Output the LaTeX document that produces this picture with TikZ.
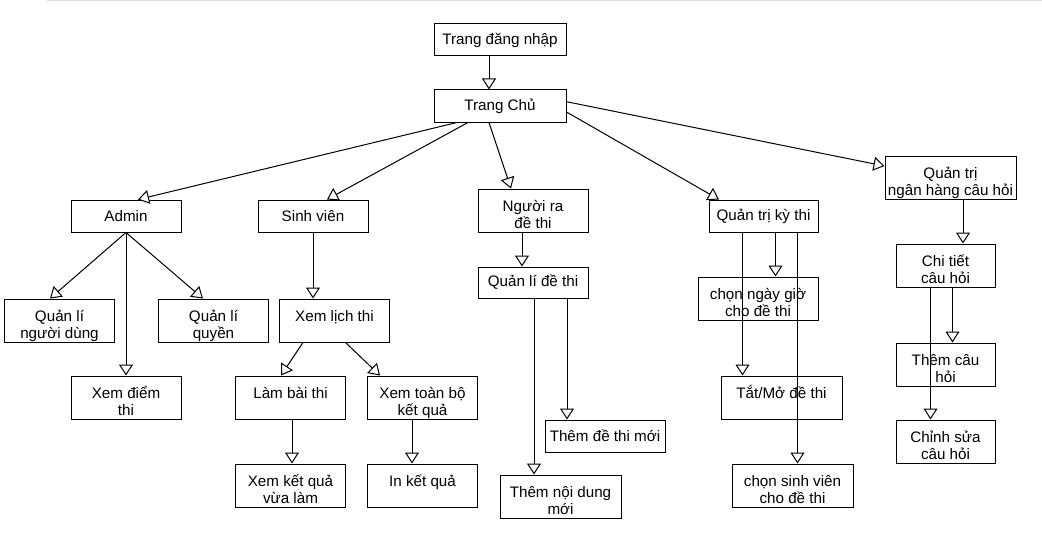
\documentclass[tikz,border=0pt]{standalone}
\usepackage{fontspec}
\setmainfont{Liberation Sans}
\usetikzlibrary{arrows.meta}
% two text lines, placed the same way in every tall box
\newcommand{\two}[2]{\rule{0pt}{22.5pt}#1\\#2\rule[-3.5pt]{0pt}{3.5pt}}

\begin{document}
\begin{tikzpicture}[x=1pt, y=-1pt,
    box/.style={draw, line width=1pt, align=center, inner sep=0pt, font=\fontsize{15.2}{17}\selectfont},
    lo/.style={minimum width=110pt, minimum height=32pt},
    hi/.style={minimum width=110pt, minimum height=43pt},
    arr/.style={draw, line width=1pt, -{Triangle[length=11pt, width=14pt, fill=white]}}]
            \useasboundingbox (0,0) rectangle (1042,551);
            \draw[gray!30, line width=1pt] (47,0.5) -- (1042,0.5);
            % top
            \node[box, lo, minimum width=132pt] (login) at (500,40) {Trang đăng nhập};
            \node[box, lo, minimum width=132pt] (home) at (500,106) {Trang Chủ};
            % second row
            \node[box, lo] (admin) at (126,216) {Admin};
            \node[box, lo] (sv) at (313,216) {Sinh viên};
            \node[box, hi] (nrdt) at (533,210.5) {\two{Người ra}{đề thi}};
            \node[box, lo, minimum width=109pt] (qtkt) at (763.5,216) {Quản trị kỳ thi};
            \node[box, hi, minimum width=131pt] (qtnh) at (950.5,177.5) {\two{Quản trị}{ngân hàng câu hỏi}};
            % admin
            \node[box, hi] (qlnd) at (59.5,320.5) {\two{Quản lí}{người dùng}};
            \node[box, hi] (qlq) at (213.5,320.5) {\two{Quản lí}{quyền}};
            \node[box, hi] (xdt) at (126,397.5) {\two{Xem điểm}{thi}};
            % sinh vien
            \node[box, hi] (xlt) at (334.5,320.5) {\two{Xem lịch thi}{}};
            \node[box, hi] (lbt) at (290.5,397.5) {\two{Làm bài thi}{}};
            \node[box, hi] (xtbkq) at (422.5,397.5) {\two{Xem toàn bộ}{kết quả}};
            \node[box, hi] (xkqvl) at (290.5,485.5) {\two{Xem kết quả}{vừa làm}};
            \node[box, hi] (ikq) at (422.5,485.5) {\two{In kết quả}{}};
            % nguoi ra de
            \node[box, lo, minimum height=31pt] (qldt) at (533,282.5) {Quản lí đề thi};
            \node[box, lo, minimum width=120pt] (tdtm) at (605,436) {Thêm đề thi mới};
            \node[box, hi, minimum width=121pt] (tndm) at (560.5,496.5) {\two{Thêm nội dung}{mới}};
            % ky thi
            \node[box, hi, minimum width=120pt] (cngio) at (758,298.5) {\two{chọn ngày giờ}{cho đề thi}};
            \node[box, hi, minimum width=121pt] (tmdt) at (781.5,397.5) {\two{Tắt/Mở đề thi}{}};
            \node[box, hi, minimum width=121pt] (csv) at (792.5,485.5) {\two{chọn sinh viên}{cho đề thi}};
            % ngan hang
            \node[box, hi, minimum width=99pt] (ctch) at (945.5,265.5) {\two{Chi tiết}{câu hỏi}};
            \node[box, hi, minimum width=99pt] (tch) at (945.5,364.5) {\two{Thêm câu}{hỏi}};
            \node[box, hi, minimum width=99pt] (cs) at (945.5,441.5) {\two{Chỉnh sửa}{câu hỏi}};
            % links
            \draw[arr] ([xshift=-11pt]login.south) -- ([xshift=-11pt]home.north);
            \draw[arr] ([xshift=-43pt]home.south) -- ([xshift=12pt]admin.north);
            \draw[arr] ([xshift=-32pt]home.south) -- ([xshift=14pt]sv.north);
            \draw[arr] ([xshift=-11pt]home.south) -- ([xshift=-22pt]nrdt.north);
            \draw[arr] ([yshift=-6pt]home.east) -- ([xshift=-44.5pt]qtkt.north);
            \draw[arr] ([yshift=4.3pt]home.east) -- ([yshift=11.5pt]qtnh.west);
            \draw[arr] (admin.south) -- ([xshift=-9.5pt]qlnd.north);
            \draw[arr] (admin.south) -- (xdt.north);
            \draw[arr] (admin.south) -- ([xshift=-10.5pt]qlq.north);
            \draw[arr] (sv.south) -- ([xshift=-21.5pt]xlt.north);
            \draw[arr] ([xshift=-31.5pt]xlt.south) -- ([xshift=-9.5pt]lbt.north);
            \draw[arr] ([xshift=11pt]xlt.south) -- ([xshift=-42.5pt]xtbkq.north);
            \draw[arr] ([xshift=1.5pt]lbt.south) -- ([xshift=1.5pt]xkqvl.north);
            \draw[arr] ([xshift=-10.5pt]xtbkq.south) -- ([xshift=-10.5pt]ikq.north);
            \draw[arr] ([xshift=-11pt]nrdt.south) -- ([xshift=-11pt]qldt.north);
            \draw[arr] ([xshift=34pt]qldt.south) -- ([xshift=-38pt]tdtm.north);
            \draw[arr] ([xshift=1pt]qldt.south) -- ([xshift=-26.5pt]tndm.north);
            \draw[arr] ([xshift=12pt]qtkt.south) -- ([xshift=17.5pt]cngio.north);
            \draw[arr] ([xshift=-21pt]qtkt.south) -- ([xshift=-39pt]tmdt.north);
            \draw[arr] ([xshift=34pt]qtkt.south) -- ([xshift=5pt]csv.north);
            \draw[arr] ([xshift=12.5pt]qtnh.south) -- ([xshift=17.5pt]ctch.north);
            \draw[arr] ([xshift=7pt]ctch.south) -- ([xshift=7pt]tch.north);
            \draw[arr] ([xshift=-15pt]ctch.south) -- ([xshift=-15pt]cs.north);
        \end{tikzpicture}
\end{document}
